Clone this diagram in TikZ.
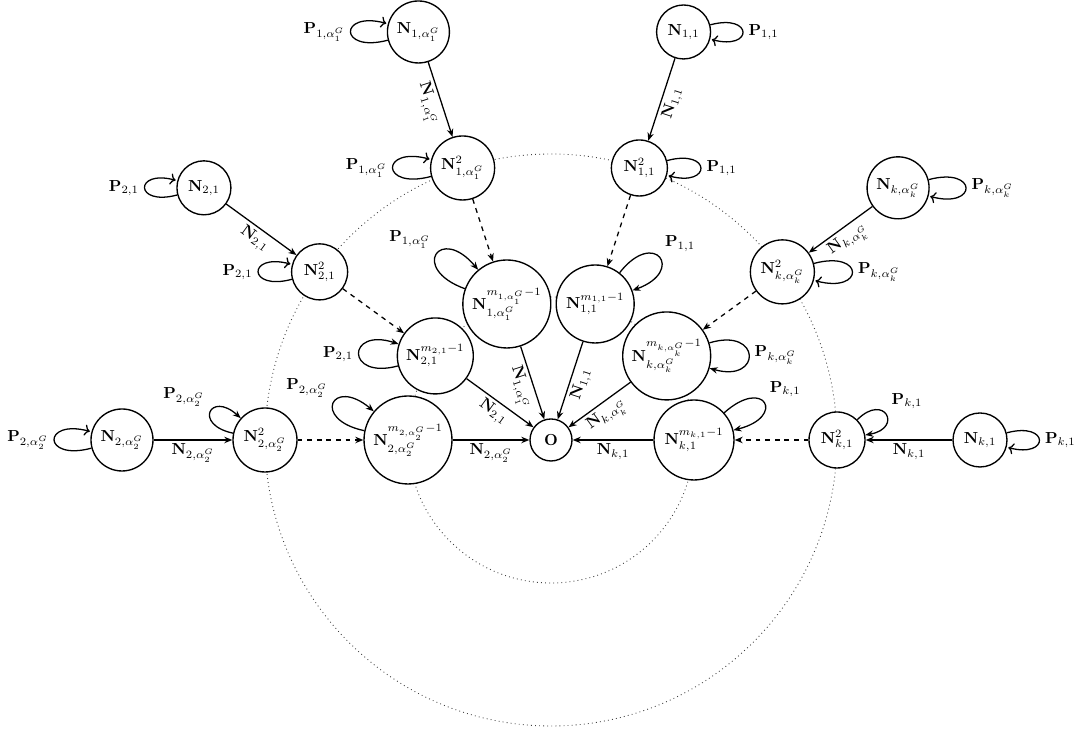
\documentclass[tikz,border=0pt]{standalone}
\usetikzlibrary{arrows.meta}
\begin{document}
\begin{tikzpicture}[x=0.022cm,y=0.022cm,
  st/.style={circle,draw,line width=0.85pt,fill=white,inner sep=0pt,minimum size=#1},
  arr/.style={-{Stealth[length=5pt,width=4pt]},line width=0.8pt},
  dsh/.style={arr,dashed},
  lab/.style={sloped,below,inner sep=2pt},
  ring/.style={dotted,line width=0.55pt,black!75}]
\useasboundingbox (0,0) rectangle (1078,734);
\begin{scope}[shift={(551,294)}]
\draw[ring] (0,0) circle (143);
\draw[ring] (0,0) circle (286);
\node[st=0.924cm] (O) at (0,0) {$\mathbf{O}$};
% outer layer
\node[st=1.364cm] (a3) at (180:429) {$\mathbf{N}_{2,\alpha_2^G}$};
\node[st=1.188cm] (b3) at (144:429) {$\mathbf{N}_{2,1}$};
\node[st=1.364cm] (c3) at (108:429) {$\mathbf{N}_{1,\alpha_1^G}$};
\node[st=1.188cm] (d3) at (72:429) {$\mathbf{N}_{1,1}$};
\node[st=1.364cm] (e3) at (36:429) {$\mathbf{N}_{k,\alpha_k^G}$};
\node[st=1.188cm] (f3) at (0:429) {$\mathbf{N}_{k,1}$};
% middle layer
\node[st=1.408cm] (a2) at (180:286) {$\mathbf{N}^2_{2,\alpha_2^G}$};
\node[st=1.232cm] (b2) at (144:286) {$\mathbf{N}^2_{2,1}$};
\node[st=1.408cm] (c2) at (108:286) {$\mathbf{N}^2_{1,\alpha_1^G}$};
\node[st=1.232cm] (d2) at (72:286) {$\mathbf{N}^2_{1,1}$};
\node[st=1.408cm] (e2) at (36:286) {$\mathbf{N}^2_{k,\alpha_k^G}$};
\node[st=1.232cm] (f2) at (0:286) {$\mathbf{N}^2_{k,1}$};
% inner layer
\node[st=1.936cm] (a1) at (180:143) {$\mathbf{N}^{m_{2,\alpha_2^G}-1}_{2,\alpha_2^G}$};
\node[st=1.672cm] (b1) at (144:143) {$\mathbf{N}^{m_{2,1}-1}_{2,1}$};
\node[st=1.936cm] (c1) at (108:143) {$\mathbf{N}^{m_{1,\alpha_1^G}-1}_{1,\alpha_1^G}$};
\node[st=1.716cm] (d1) at (72:143) {$\mathbf{N}^{m_{1,1}-1}_{1,1}$};
\node[st=1.936cm] (e1) at (36:143) {$\mathbf{N}^{m_{k,\alpha_k^G}-1}_{k,\alpha_k^G}$};
\node[st=1.76cm] (f1) at (0:143) {$\mathbf{N}^{m_{k,1}-1}_{k,1}$};
\end{scope}
% outer -> middle
\draw[arr] (a3) -- node[lab]{$\mathbf{N}_{2,\alpha_2^G}$} (a2);
\draw[arr] (b3) -- node[lab]{$\mathbf{N}_{2,1}$} (b2);
\draw[arr] (c3) -- node[lab]{$\mathbf{N}_{1,\alpha_1^G}$} (c2);
\draw[arr] (d3) -- node[lab]{$\mathbf{N}_{1,1}$} (d2);
\draw[arr] (e3) -- node[lab]{$\mathbf{N}_{k,\alpha_k^G}$} (e2);
\draw[arr] (f3) -- node[lab]{$\mathbf{N}_{k,1}$} (f2);
% middle -> inner
\draw[dsh] (a2) -- (a1);
\draw[dsh] (b2) -- (b1);
\draw[dsh] (c2) -- (c1);
\draw[dsh] (d2) -- (d1);
\draw[dsh] (e2) -- (e1);
\draw[dsh] (f2) -- (f1);
% inner -> O
\draw[arr] (a1) -- node[lab]{$\mathbf{N}_{2,\alpha_2^G}$} (O);
\draw[arr] (b1) -- node[lab]{$\mathbf{N}_{2,1}$} (O);
\draw[arr] (c1) -- node[lab]{$\mathbf{N}_{1,\alpha_1^G}$} (O);
\draw[arr] (d1) -- node[lab]{$\mathbf{N}_{1,1}$} (O);
\draw[arr] (e1) -- node[lab]{$\mathbf{N}_{k,\alpha_k^G}$} (O);
\draw[arr] (f1) -- node[lab]{$\mathbf{N}_{k,1}$} (O);
% self loops, outer
\draw[arr] (a3) edge[loop left] node[left]{$\mathbf{P}_{2,\alpha_2^G}$} ();
\draw[arr] (b3) edge[loop left] node[left]{$\mathbf{P}_{2,1}$} ();
\draw[arr] (c3) edge[loop left] node[left]{$\mathbf{P}_{1,\alpha_1^G}$} ();
\draw[arr] (d3) edge[loop right] node[right]{$\mathbf{P}_{1,1}$} ();
\draw[arr] (e3) edge[loop right] node[right]{$\mathbf{P}_{k,\alpha_k^G}$} ();
\draw[arr] (f3) edge[loop right] node[right]{$\mathbf{P}_{k,1}$} ();
% self loops, middle
\draw[arr] (a2) edge[out=168,in=138,distance=0.9cm] node[above left]{$\mathbf{P}_{2,\alpha_2^G}$} (a2);
\draw[arr] (b2) edge[loop left] node[left]{$\mathbf{P}_{2,1}$} ();
\draw[arr] (c2) edge[loop left] node[left]{$\mathbf{P}_{1,\alpha_1^G}$} ();
\draw[arr] (d2) edge[loop right] node[right]{$\mathbf{P}_{1,1}$} ();
\draw[arr] (e2) edge[loop right] node[right]{$\mathbf{P}_{k,\alpha_k^G}$} ();
\draw[arr] (f2) edge[out=45,in=10,distance=0.85cm] node[above right]{$\mathbf{P}_{k,1}$} (f2);
% self loops, inner
\draw[arr] (a1) edge[out=168,in=140,distance=1.2cm] node[above left]{$\mathbf{P}_{2,\alpha_2^G}$} (a1);
\draw[arr] (b1) edge[out=195,in=162,distance=1.2cm] node[left]{$\mathbf{P}_{2,1}$} (b1);
\draw[arr] (c1) edge[out=160,in=130,distance=1.3cm] node[above left]{$\mathbf{P}_{1,\alpha_1^G}$} (c1);
\draw[arr] (d1) edge[out=52,in=20,distance=1.25cm] node[above right]{$\mathbf{P}_{1,1}$} (d1);
\draw[arr] (e1) edge[out=17,in=-16,distance=1.2cm] node[right]{$\mathbf{P}_{k,\alpha_k^G}$} (e1);
\draw[arr] (f1) edge[out=42,in=14,distance=1.2cm] node[above right]{$\mathbf{P}_{k,1}$} (f1);
\end{tikzpicture}
\end{document}
